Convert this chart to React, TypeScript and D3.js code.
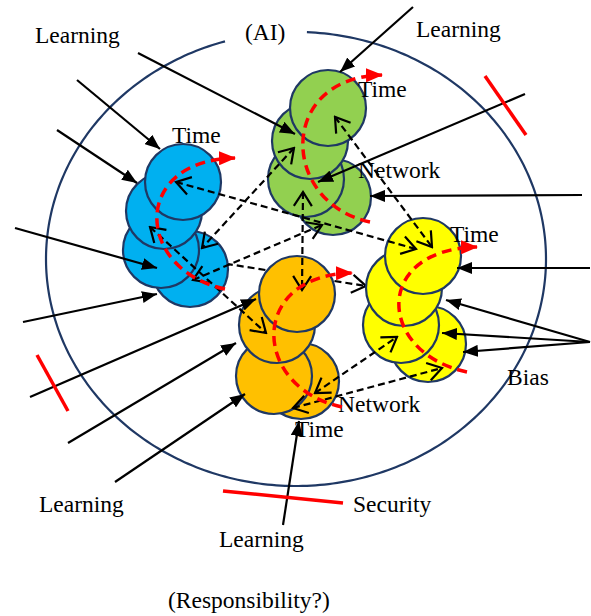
import React from 'react';
import * as d3 from 'd3';

const W = 591;
const H = 616;

// Outer ellipse ("AI" boundary) and gap angles (degrees) around the "(AI)" label
const ellipseCenter = [296, 259];
const ellipseRadii = [250, 227];
const ellipseGap = [-87.5, -106.5];

// Circle clusters (back-to-front)
const clusterFills = ['#00b0f0', '#92d050', '#ffc000', '#ffff00'];
const blueCircles = [[190, 269], [161, 250], [164, 211], [183, 182]];
const greenCircles = [[333, 197], [306, 179], [310, 141], [328, 108]];
const orangeCircles = [[301, 381], [274, 376], [277, 325], [297, 294]];
const yellowCircles = [[428, 344], [401, 325], [404, 288], [423, 256]];
const circleRadius = 38;

// Red dashed time arcs: [start, tip]
const redArcs = [
  [[225, 289], [235, 158]],
  [[370, 222], [382, 75]],
  [[342, 407], [352, 273]],
  [[467, 372], [477, 247]],
];

// Dashed links (double headed) between clusters
const dashedLinks = [
  [[176, 182], [416, 249]],
  [[335, 117], [432, 247]],
  [[294, 148], [202, 248]],
  [[303, 192], [302, 290]],
  [[193, 280], [322, 225]],
  [[150, 227], [266, 333]],
  [[315, 393], [397, 337]],
  [[293, 408], [442, 368]],
];
// Dashed link that runs behind the orange cluster (single head)
const hiddenLinks = [[[215, 262], [366, 286]]];

// Solid input arrows: [from, to]
const solidArrows = [
  [[413, 7], [340, 72]],
  [[138, 53], [295, 134]],
  [[77, 80], [160, 149]],
  [[57, 130], [137, 183]],
  [[15, 228], [157, 268]],
  [[23, 322], [157, 294]],
  [[30, 397], [256, 299]],
  [[68, 443], [236, 343]],
  [[115, 482], [245, 394]],
  [[283, 525], [299, 421]],
  [[525, 94], [318, 182]],
  [[582, 195], [370, 196]],
  [[590, 268], [457, 268]],
  [[590, 342], [446, 300]],
  [[590, 342], [442, 333]],
  [[590, 342], [463, 352]],
];

// Red barrier ticks
const redTicks = [
  [[485, 76], [526, 135]],
  [[37, 355], [68, 411]],
  [[223, 491], [343, 503]],
];

// Labels: [text, x, baseline]
const labels: [string, number, number][] = [
  ['Learning', 35, 43],
  ['(AI)', 245, 40],
  ['Learning', 416, 37],
  ['Time', 358, 97],
  ['Time', 172, 143],
  ['Network', 358, 178],
  ['Time', 450, 242],
  ['Bias', 507, 385],
  ['Network', 338, 412],
  ['Time', 295, 437],
  ['Security', 353, 512],
  ['Learning', 39, 512],
  ['Learning', 219, 547],
  ['(Responsibility?)', 168, 608],
];

const NAVY = '#1f3864';
const RED = '#ff0000';

function ellipsePath() {
  const [cx, cy] = ellipseCenter;
  const [rx, ry] = ellipseRadii;
  const a0 = ellipseGap[0];
  const a1 = ellipseGap[1] + 360;
  const angles = d3.range(a0, a1 + 0.001, 1);
  const pts = angles.map((a) => {
    const t = (a * Math.PI) / 180;
    return [cx + rx * Math.cos(t), cy + ry * Math.sin(t)] as [number, number];
  });
  return d3.line().curve(d3.curveLinear)(pts) || '';
}

function segPath(a: number[], b: number[]) {
  const p = d3.path();
  p.moveTo(a[0], a[1]);
  p.lineTo(b[0], b[1]);
  return p.toString();
}

function arcPath(s: number[], t: number[]) {
  const p = d3.path();
  p.moveTo(s[0], s[1]);
  p.bezierCurveTo(s[0] - 90, s[1] - 19, t[0] - 105, t[1] + 2, t[0], t[1]);
  return p.toString();
}

export default function App() {
  const clusters = [blueCircles, greenCircles, orangeCircles, yellowCircles];
  const font = "'Liberation Serif', 'Times New Roman', serif";
  return (
    <svg
      width={W}
      height={H}
      viewBox={`0 0 ${W} ${H}`}
      style={{ position: 'absolute', left: 0, top: 0, background: '#fff' }}
    >
      <defs>
        <marker
          id="solidHead"
          viewBox="0 0 15 12"
          refX={15}
          refY={6}
          markerWidth={15}
          markerHeight={12}
          markerUnits="userSpaceOnUse"
          orient="auto"
        >
          <path d="M0,0 L15,6 L0,12 Z" fill="#000" />
        </marker>
        <marker
          id="openHead"
          viewBox="-2 -2 18 22"
          refX={14}
          refY={9}
          markerWidth={18}
          markerHeight={22}
          markerUnits="userSpaceOnUse"
          orient="auto-start-reverse"
        >
          <path d="M0,0 L14,9 L0,18" fill="none" stroke="#000" strokeWidth={2.2} />
        </marker>
        <marker
          id="redHead"
          viewBox="0 0 17 14"
          refX={16}
          refY={7}
          markerWidth={17}
          markerHeight={14}
          markerUnits="userSpaceOnUse"
          orient="auto"
        >
          <path d="M0,0 L17,7 L0,14 Z" fill={RED} />
        </marker>
      </defs>

      <path d={ellipsePath()} fill="none" stroke={NAVY} strokeWidth={2.2} />

      {hiddenLinks.map((l, i) => (
        <path
          key={`h${i}`}
          d={segPath(l[0], l[1])}
          fill="none"
          stroke="#000"
          strokeWidth={2.2}
          strokeDasharray="7,4"
          markerEnd="url(#openHead)"
        />
      ))}

      {clusters.map((cs, ci) => (
        <g key={`c${ci}`}>
          {cs.map((c, i) => (
            <circle
              key={i}
              cx={c[0]}
              cy={c[1]}
              r={circleRadius}
              fill={clusterFills[ci]}
              stroke={NAVY}
              strokeWidth={2.2}
            />
          ))}
        </g>
      ))}

      {labels.map(([t, x, y], i) => (
        <text key={`t${i}`} x={x} y={y} fontFamily={font} fontSize={23.5} fill="#000">
          {t}
        </text>
      ))}

      {dashedLinks.map((l, i) => (
        <path
          key={`d${i}`}
          d={segPath(l[0], l[1])}
          fill="none"
          stroke="#000"
          strokeWidth={2.2}
          strokeDasharray="7,4"
          markerStart="url(#openHead)"
          markerEnd="url(#openHead)"
        />
      ))}

      {redArcs.map((a, i) => (
        <path
          key={`r${i}`}
          d={arcPath(a[0], a[1])}
          fill="none"
          stroke={RED}
          strokeWidth={3.5}
          strokeDasharray="10,6"
          markerEnd="url(#redHead)"
        />
      ))}

      {solidArrows.map((l, i) => (
        <path
          key={`s${i}`}
          d={segPath(l[0], l[1])}
          fill="none"
          stroke="#000"
          strokeWidth={2.2}
          markerEnd="url(#solidHead)"
        />
      ))}

      {redTicks.map((l, i) => (
        <path key={`k${i}`} d={segPath(l[0], l[1])} fill="none" stroke={RED} strokeWidth={3.5} />
      ))}
    </svg>
  );
}
